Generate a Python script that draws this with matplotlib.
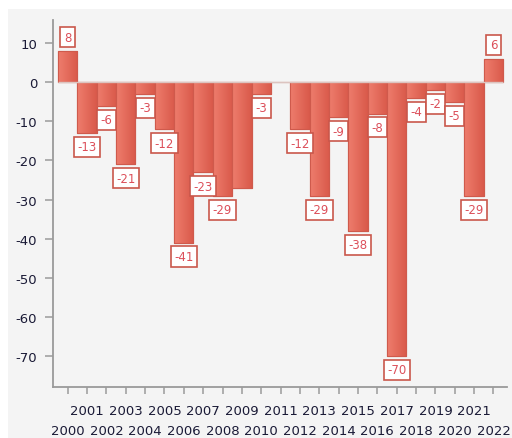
import matplotlib
matplotlib.use("Agg")
import matplotlib.pyplot as plt
import numpy as np
from matplotlib.colors import LinearSegmentedColormap
from matplotlib.patches import Rectangle

years = list(range(2000, 2023))
values = [8, -13, -6, -21, -3, -12, -41, -23, -29, -27, -3, 0,
          -12, -29, -9, -38, -8, -70, -4, -2, -5, -29, 6]
hidden_labels = [2009, 2011]

fig = plt.figure(figsize=(5.12, 4.39), dpi=100)
fig.patch.set_facecolor("white")
fig.patches.append(Rectangle((8/512, 0), 1, (439-10)/439, transform=fig.transFigure,
                             facecolor="#f4f4f4", edgecolor="none", zorder=-5))

ax = fig.add_axes([53/512, 51/439, (507-53)/512, (388-21)/439])
ax.set_facecolor("none")
ax.set_zorder(2)

x = np.arange(len(years))
bars = ax.bar(x, values, width=1.0, color="#e46a5a", edgecolor="#cf5a4c",
              linewidth=0.8, zorder=2)

cmap = LinearSegmentedColormap.from_list("g", ["#ee7d6d", "#d9594a"])
grad = np.linspace(0, 1, 64).reshape(1, -1)
for b in bars:
    h = b.get_height()
    if h == 0:
        continue
    x0 = b.get_x()
    w = b.get_width()
    im = ax.imshow(grad, cmap=cmap, extent=[x0, x0 + w, min(0, h), max(0, h)],
                   aspect="auto", zorder=2.1, interpolation="bilinear")
    im.set_clip_path(b)
    ax.add_patch(Rectangle((x0, min(0, h)), w, abs(h), facecolor="none",
                           edgecolor="#cf5a4c", linewidth=0.8, zorder=2.2))

ax.hlines(0, x[0] - 0.5, x[-1] + 0.5, color="#dcc4c0", linewidth=1.0, zorder=2.3)

for xi, yr, v in zip(x, years, values):
    if yr in hidden_labels:
        continue
    off = 10 if v >= 0 else -10
    ax.annotate(f"{v}", (xi, v), xytext=(0, off), textcoords="offset points",
                ha="center", va="center", fontsize=8.5, color="#dc4f5a", zorder=5,
                bbox=dict(boxstyle="square,pad=0.3", facecolor="white",
                          edgecolor="#c9574b", linewidth=1.2))

ax.set_xlim(-0.76, 22.7)
ax.set_ylim(-77.9, 15.9)

ax.set_yticks(np.arange(-70, 11, 10))
ax.set_yticklabels([str(t) for t in range(-70, 11, 10)])

odd = [i for i, y in enumerate(years) if y % 2 == 1]
even = [i for i, y in enumerate(years) if y % 2 == 0]
ax.set_xticks(odd)
ax.set_xticklabels([str(years[i]) for i in odd])
ax.set_xticks(even, minor=True)
ax.set_xticklabels([str(years[i]) for i in even], minor=True)

for s in ["top", "right"]:
    ax.spines[s].set_visible(False)
for s in ["left", "bottom"]:
    ax.spines[s].set_color("#9a9a9a")
    ax.spines[s].set_linewidth(1.3)

ax.tick_params(axis="y", length=5.8, width=1.1, color="#9a9a9a", pad=5.5,
               labelsize=9.5, labelcolor="#1a1a36")
ax.tick_params(axis="x", which="major", length=5, width=1.1, color="#9a9a9a", pad=7.5,
               labelsize=9.5, labelcolor="#1a1a36")
ax.tick_params(axis="x", which="minor", length=5, width=1.1, color="#9a9a9a", pad=21.5,
               labelsize=9.5, labelcolor="#1a1a36")

fig.savefig("out.png", dpi=100)
